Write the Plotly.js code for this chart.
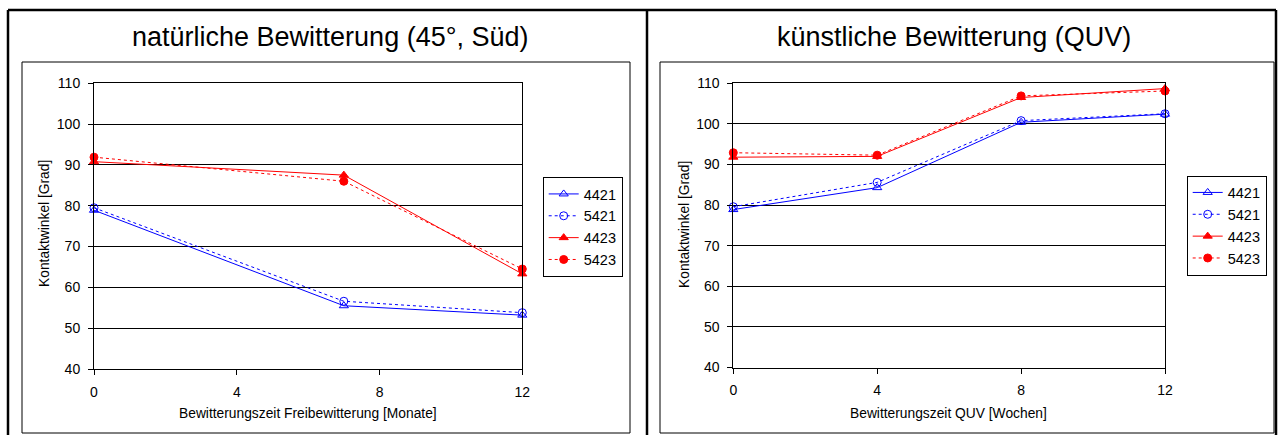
<!DOCTYPE html>
<html>
<head>
<meta charset="utf-8">
<script src="https://cdn.plot.ly/plotly-3.0.1.min.js"></script>
<style>html,body{margin:0;padding:0;background:#fff;}#chart{width:1278px;height:435px;}</style>
</head>
<body>
<div id="chart"></div>
<script>
// ---- data ----
const seriesNames = ["4421", "5421", "4423", "5423"];

// natürliche Bewitterung (45°, Süd) — x in Monaten
const monthsNatural = [0, 7, 12];
const nat4421 = [78.9, 55.5, 53.2];
const nat5421 = [79.5, 56.6, 53.8];
const nat4423 = [90.8, 87.5, 63.3];
const nat5423 = [91.9, 86.0, 64.5];

// künstliche Bewitterung (QUV) — x in Wochen
const weeksQUV = [0, 4, 8, 12];
const quv4421 = [78.9, 84.3, 100.4, 102.4];
const quv5421 = [79.6, 85.6, 100.8, 102.5];
const quv4423 = [91.8, 92.0, 106.5, 108.7];
const quv5423 = [92.9, 92.3, 106.9, 108.1];

const xTickVals = [0, 4, 8, 12];
const yTickVals = [40, 50, 60, 70, 80, 90, 100, 110];

const leftTitle = "natürliche Bewitterung (45°, Süd)";
const rightTitle = "künstliche Bewitterung (QUV)";
const leftXTitle = "Bewitterungszeit Freibewitterung [Monate]";
const rightXTitle = "Bewitterungszeit QUV [Wochen]";
const yTitle = "Kontaktwinkel [Grad]";

// ---- styling ----
const W = 1278, H = 435;
const px = v => v / W;
const py = v => 1 - v / H;
const FONT = "Liberation Sans, Arial, sans-serif";
const BLUE = "#0000ff", RED = "#ff0000";

const styles = [
  {color: BLUE, dash: "solid", symbol: "triangle-up-open"},
  {color: BLUE, dash: "dot", symbol: "circle-open"},
  {color: RED, dash: "solid", symbol: "triangle-up"},
  {color: RED, dash: "dot", symbol: "circle"}
];

function mk(x, y, i, xa, ya, leg) {
  const s = styles[i];
  return {
    type: "scatter", mode: "lines+markers",
    x: x, y: y, name: seriesNames[i],
    xaxis: xa, yaxis: ya, legend: leg,
    cliponaxis: false,
    line: {color: s.color, width: 1, dash: s.dash},
    marker: {color: s.color, symbol: s.symbol, size: 8, line: {color: s.color, width: 1}}
  };
}

const natSeries = [nat4421, nat5421, nat4423, nat5423];
const quvSeries = [quv4421, quv5421, quv4423, quv5423];
const traces = [];
natSeries.forEach((ys, i) => traces.push(mk(monthsNatural, ys, i, "x", "y", "legend")));
quvSeries.forEach((ys, i) => traces.push(mk(weeksQUV, ys, i, "x2", "y2", "legend2")));

function xAx(domain) {
  return {
    domain: domain, range: [0, 12], tickvals: xTickVals, ticktext: xTickVals.map(String),
    showgrid: false, zeroline: false, showline: true, linecolor: "#000", linewidth: 1,
    mirror: true, ticks: "outside", ticklen: 5, tickcolor: "#000", tickwidth: 1,
    ticklabelstandoff: 5,
    tickfont: {family: FONT, size: 14, color: "#000"}, fixedrange: true
  };
}
function yAx(domain, anchor) {
  return {
    domain: domain, range: [40, 110], tickvals: yTickVals, ticktext: yTickVals.map(String),
    anchor: anchor,
    showgrid: true, gridcolor: "#000", gridwidth: 1,
    zeroline: false, showline: true, linecolor: "#000", linewidth: 1,
    mirror: true, ticks: "outside", ticklen: 5, tickcolor: "#000", tickwidth: 1,
    ticklabelstandoff: 5,
    tickfont: {family: FONT, size: 14, color: "#000"}, fixedrange: true
  };
}

function legendAt(xl, yt) {
  return {
    x: px(xl), y: py(yt), xanchor: "left", yanchor: "top",
    xref: "paper", yref: "paper",
    bgcolor: "#fff", bordercolor: "#000", borderwidth: 1,
    font: {family: FONT, size: 14.5, color: "#000"},
    tracegroupgap: 0, orientation: "v"
  };
}

const lineShape = (x0, y0, x1, y1, w) => ({
  type: "line", xref: "paper", yref: "paper",
  x0: px(x0), y0: py(y0), x1: px(x1), y1: py(y1),
  line: {color: "#000", width: w}
});
const rectShape = (x0, y0, x1, y1) => ({
  type: "rect", xref: "paper", yref: "paper",
  x0: px(x0), y0: py(y0), x1: px(x1), y1: py(y1),
  line: {color: "#000", width: 1}, fillcolor: "rgba(0,0,0,0)", layer: "below"
});

const shapes = [
  lineShape(8, 10, 1276, 10, 2.5),
  lineShape(8, 10, 8, 435, 2.5),
  lineShape(647, 10, 647, 435, 2.5),
  lineShape(1276, 10, 1276, 435, 2.5),
  rectShape(22, 62, 630, 433),
  rectShape(660, 62, 1274, 433)
];

const ann = (text, x, y, size, angle) => ({
  text: text, xref: "paper", yref: "paper", x: px(x), y: py(y),
  xanchor: "center", yanchor: "middle", showarrow: false,
  textangle: angle || 0,
  font: {family: FONT, size: size, color: "#000"}
});

const annotations = [
  ann(leftTitle, 330, 37, 27),
  ann(rightTitle, 954, 37, 27),
  ann(leftXTitle, 308, 413, 13.8),
  ann(rightXTitle, 949, 413, 13.8),
  ann(yTitle, 44, 224, 13.8, -90),
  ann(yTitle, 684, 224, 13.8, -90)
];

const layout = {
  width: W, height: H, autosize: false,
  margin: {l: 0, r: 0, t: 0, b: 0, pad: 0},
  paper_bgcolor: "#fff", plot_bgcolor: "#fff",
  font: {family: FONT, color: "#000"},
  showlegend: true,
  xaxis: Object.assign(xAx([px(94), px(522.3)]), {anchor: "y"}),
  yaxis: yAx([py(369), py(83.3)], "x"),
  xaxis2: Object.assign(xAx([px(733.3), px(1165)]), {anchor: "y2"}),
  yaxis2: yAx([py(367.5), py(83.3)], "x2"),
  legend: legendAt(542.7, 177),
  legend2: legendAt(1186.7, 175.5),
  shapes: shapes,
  annotations: annotations,
  hovermode: false
};

Plotly.newPlot("chart", traces, layout, {staticPlot: true, displayModeBar: false});
</script>
</body>
</html>
